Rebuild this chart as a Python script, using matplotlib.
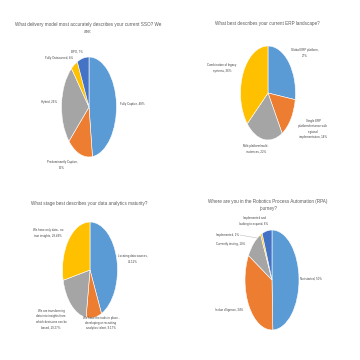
import matplotlib
matplotlib.use("Agg")
import matplotlib.pyplot as plt

plt.rcParams['font.family'] = ['Liberation Sans', 'DejaVu Sans']

BLUE, ORANGE, GRAY, YELLOW, DBLUE = '#5B9BD5', '#ED7D31', '#A5A5A5', '#FFC000', '#4472C4'

# ---- data ----
t1 = "What delivery model most accurately describes your current SSO? We\nare:"
c1 = ["Fully Captive", "Predominantly Captive", "Hybrid", "Fully Outsourced", "BPO"]
v1 = [48, 15, 26, 4, 7]
l1 = ["Fully Captive, 48%", "Predominantly Captive,\n15%", "Hybrid, 26%", "Fully Outsourced, 4%", "BPO, 7%"]

t2 = "What best describes your current ERP landscape?"
c2 = ["Global ERP platform", "Single ERP platform/instance with regional implementation",
      "Multi-platform/multi-instances", "Combination of legacy systems"]
v2 = [27, 14, 22, 36]
l2 = ["Global ERP platform,\n27%", "Single ERP\nplatform/instance with\nregional\nimplementation, 14%",
      "Multi-platform/multi-\ninstances, 22%", "Combination of legacy\nsystems, 36%"]

t3 = "What stage best describes your data analytics maturity?"
c3 = ["Locating data sources", "We have the tools in place - developing or recruiting analytics talent",
      "We are transforming data into insights from which decisions can be based",
      "We have only data - no true insights"]
v3 = [43.12, 9.17, 19.27, 28.44]
l3 = ["Locating data sources,\n43.12%", "We have the tools in place -\ndeveloping or recruiting\nanalytics talent, 9.17%",
      "We are transforming\ndata into insights from\nwhich decisions can be\nbased, 19.27%",
      "We have only data - no\ntrue insights, 28.44%"]

t4 = "Where are you in the Robotics Process Automation (RPA)\njourney?"
c4 = ["Not started", "In due diligence", "Currently testing", "Implemented", "Implemented and looking to expand"]
v4 = [50, 34, 10, 1, 6]
l4 = ["Not started, 50%", "In due diligence, 34%", "Currently testing, 10%", "Implemented, 1%",
      "Implemented and\nlooking to expand, 6%"]

# ---- layout (pixels) ----
W = H = 360
fig = plt.figure(figsize=(3.6, 3.6), dpi=100)
fig.patch.set_facecolor('white')

def fx(px): return px / W
def fy(py): return 1 - py / H

TITLE_C = '#595959'
LABEL_C = '#404040'

def draw(vals, colors, cx, cy, rx, ry, title, tx, ty, labels, lpos):
    ax = fig.add_axes([fx(cx - rx), fy(cy + ry), 2 * rx / W, 2 * ry / H])
    ax.pie(vals, colors=colors, startangle=90, counterclock=False, radius=1,
           wedgeprops=dict(edgecolor='white', linewidth=0.4))
    ax.set_aspect('auto')
    ax.set_xlim(-1, 1); ax.set_ylim(-1, 1)
    ax.axis('off')
    fig.text(fx(tx), fy(ty), title, ha='center', va='center', fontsize=3.3,
             color=TITLE_C, linespacing=1.7)
    for lab, (px, py, ha) in zip(labels, lpos):
        fig.text(fx(px), fy(py), lab, ha=ha, va='center', fontsize=2.1,
                 color=LABEL_C, multialignment='center', linespacing=1.5)

draw(v1, [BLUE, ORANGE, GRAY, YELLOW, DBLUE], 89, 107, 27.5, 50, t1, 88, 28,
     l1, [(120, 104, 'left'), (62, 165, 'center'), (57, 102, 'right'),
          (73, 58, 'right'), (77, 52, 'center')])

draw(v2, [BLUE, ORANGE, GRAY, YELLOW], 268, 93, 27.5, 47, t2, 267, 24,
     l2, [(305, 53, 'center'), (313, 129, 'center'), (256, 149, 'center'),
          (222, 68, 'center')])

draw(v3, [BLUE, ORANGE, GRAY, YELLOW], 90, 270, 27.5, 48, t3, 89, 204,
     l3, [(133, 259, 'center'), (101, 323, 'center'), (51, 319, 'center'),
          (48, 233, 'center')])

draw(v4, [BLUE, ORANGE, GRAY, YELLOW, DBLUE], 272, 280, 27, 50, t4, 268, 205,
     l4, [(300, 279, 'left'), (243, 310, 'right'), (245, 244, 'right'),
          (239, 235, 'right'), (254, 221, 'center')])

# leader line for the tiny "Implemented" slice
fig.add_artist(plt.Line2D([fx(240), fx(257)], [fy(235), fy(238)], color='#A6A6A6', lw=0.3))

fig.savefig('out.png', dpi=100, facecolor='white')
